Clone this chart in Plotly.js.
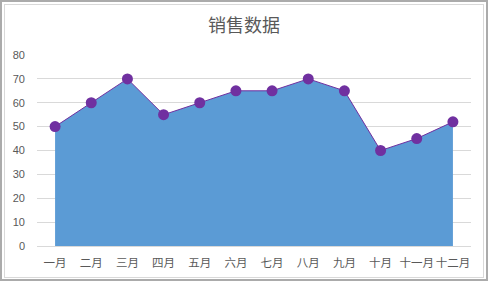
<!DOCTYPE html>
<html><head><meta charset="utf-8">
<script src="https://cdn.plot.ly/plotly-3.0.1.min.js"></script>
<style>
html,body{margin:0;padding:0;background:#fff;}
#wrap{position:relative;width:488px;height:281px;}
#chart{position:absolute;left:0;top:0;width:488px;height:281px;}
#b1{position:absolute;left:0;top:0;width:488px;height:281px;box-sizing:border-box;border:2px solid #ababab;pointer-events:none;}
#b2{position:absolute;left:4px;top:4px;width:480px;height:274px;box-sizing:border-box;border:1px solid #d9d9d9;pointer-events:none;}
</style>
</head><body>
<div id="wrap"><div id="chart"></div><div id="b1"></div><div id="b2"></div></div>
<script>
var months = ["一月","二月","三月","四月","五月","六月","七月","八月","九月","十月","十一月","十二月"];
var sales = [50,60,70,55,60,65,65,70,65,40,45,52];
var yTicks = [0,10,20,30,40,50,60,70,80];
var chartTitle = "销售数据";

var font = "'Noto Sans CJK SC', 'Microsoft YaHei', sans-serif";
var trace = {
  x: months, y: sales, type: 'scatter', mode: 'lines+markers',
  fill: 'tozeroy', fillcolor: '#5b9bd5',
  line: {color: '#7030a0', width: 1},
  marker: {color: '#7030a0', size: 11},
  hoverinfo: 'none'
};
var layout = {
  width: 488, height: 281,
  margin: {l: 37, r: 17, t: 55, b: 35, pad: 0},
  paper_bgcolor: '#ffffff', plot_bgcolor: '#ffffff',
  showlegend: false,
  title: {text: chartTitle, font: {family: font, size: 18, color: '#595959'}, x: 0.5, xanchor: 'center', y: 0.91, yanchor: 'middle'},
  xaxis: {
    type: 'category', range: [-0.5, 11.5], showgrid: false, zeroline: false,
    showline: true, linecolor: '#d9d9d9', linewidth: 1,
    ticks: '', tickangle: 0, tickfont: {family: font, size: 11.5, color: '#595959'}, ticklabelstandoff: 6,
    fixedrange: true
  },
  yaxis: {
    range: [0, 80], tickvals: yTicks, showgrid: true, gridcolor: '#d9d9d9', gridwidth: 1,
    zeroline: false, showline: false, ticks: '',
    tickfont: {family: "'Liberation Sans', Arial, sans-serif", size: 11, color: '#595959'}, ticklabelstandoff: 11,
    fixedrange: true
  }
};
Plotly.newPlot('chart', [trace], layout, {staticPlot: true, displayModeBar: false});
</script>
</body></html>
